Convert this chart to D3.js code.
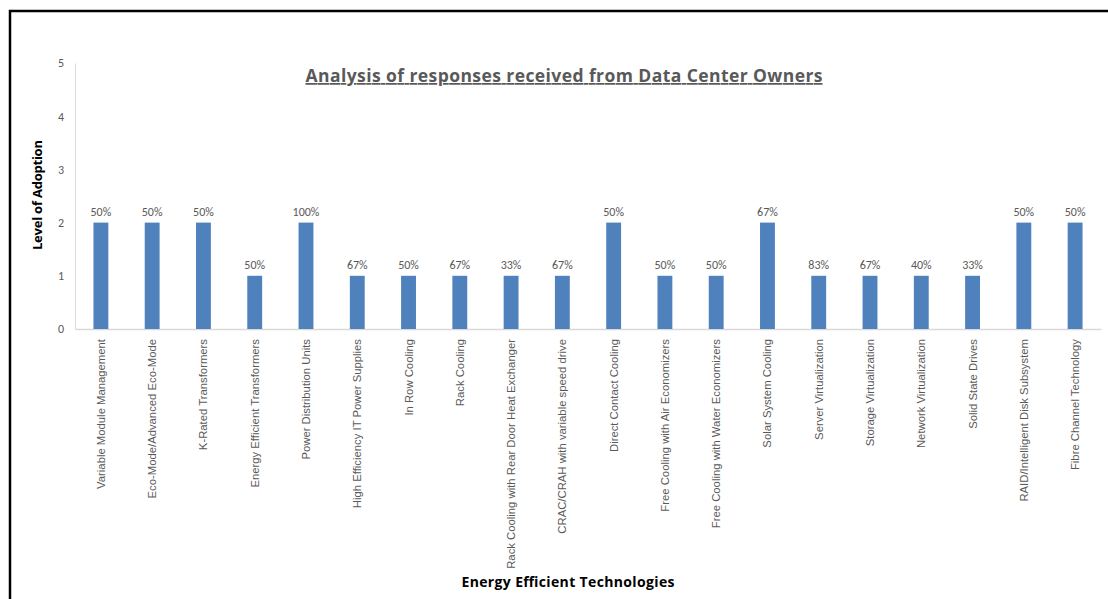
<!DOCTYPE html>
<html>
<head>
<meta charset="utf-8">
<script src="https://cdn.jsdelivr.net/npm/d3@7"></script>
<style>
  body { margin: 0; background: #fff; }
  svg { display: block; }
</style>
</head>
<body>
<script>
// chart data
const technologies = [
  "Variable Module Management",
  "Eco-Mode/Advanced Eco-Mode",
  "K-Rated Transformers",
  "Energy Efficient Transformers",
  "Power Distribution Units",
  "High Efficiency IT Power Supplies",
  "In Row Cooling",
  "Rack Cooling",
  "Rack Cooling with Rear Door Heat Exchanger",
  "CRAC/CRAH with variable speed drive",
  "Direct Contact Cooling",
  "Free Cooling with Air Economizers",
  "Free Cooling with Water Economizers",
  "Solar System Cooling",
  "Server Virtualization",
  "Storage Virtualization",
  "Network Virtualization",
  "Solid State Drives",
  "RAID/Intelligent Disk Subsystem",
  "Fibre Channel Technology"
];
const adoptionLevels = [2, 2, 2, 1, 2, 1, 1, 1, 1, 1, 2, 1, 1, 2, 1, 1, 1, 1, 2, 2];
const percentLabels = ["50%", "50%", "50%", "50%", "100%", "67%", "50%", "67%", "33%", "67%",
  "50%", "50%", "50%", "67%", "83%", "67%", "40%", "33%", "50%", "50%"];
const yTicks = [0, 1, 2, 3, 4, 5];

const width = 1108;
const height = 599;
const margin = { left: 75, right: 7, top: 63, bottom: 270 };
const textGrey = "#595959";
const calibri = "Carlito, Calibri, Lato, 'Open Sans', sans-serif";
const wide = "'Open Sans', Lato, sans-serif";
const narrow = "'Liberation Sans Narrow', 'Arial Narrow', 'Liberation Sans', sans-serif";

const svg = d3.select("body").append("svg")
  .attr("width", width)
  .attr("height", height);

// frame (only top and left edges visible)
svg.append("path")
  .attr("d", `M10,${height} L10,11 L${width},11`)
  .attr("fill", "none")
  .attr("stroke", "#000")
  .attr("stroke-width", 2.5);

const x = d3.scaleBand()
  .domain(technologies)
  .range([margin.left, width - margin.right])
  .paddingInner(0.71)
  .paddingOuter(0.36);

const y = d3.scaleLinear()
  .domain([0, 5])
  .range([height - margin.bottom, margin.top]);

// y axis
const yAxis = svg.append("g")
  .attr("transform", `translate(${margin.left},0)`)
  .call(d3.axisLeft(y).tickValues(yTicks).tickSize(0).tickPadding(11).tickFormat(d3.format("d")));
yAxis.select(".domain").attr("stroke", "#d9d9d9");
yAxis.selectAll("text")
  .attr("fill", textGrey)
  .attr("font-family", calibri)
  .attr("font-size", 12);

// x axis
const xAxis = svg.append("g")
  .attr("transform", `translate(0,${y(0)})`)
  .call(d3.axisBottom(x).tickSize(0).tickPadding(0));
xAxis.select(".domain").attr("stroke", "#d9d9d9").attr("stroke-width", 1.5);
xAxis.selectAll("text")
  .attr("fill", textGrey)
  .attr("font-family", narrow)
  .attr("font-size", 11.3)
  .attr("text-anchor", "end")
  .attr("dy", "0.35em")
  .attr("transform", "translate(0,10) rotate(-90)")
  .attr("x", 0)
  .attr("y", 0);

// bars
svg.selectAll("rect.bar")
  .data(adoptionLevels)
  .join("rect")
  .attr("class", "bar")
  .attr("x", (d, i) => x(technologies[i]))
  .attr("width", x.bandwidth())
  .attr("y", d => y(d))
  .attr("height", d => y(0) - y(d))
  .attr("fill", "#4f81bd");

// percentage labels
svg.selectAll("text.pct")
  .data(adoptionLevels)
  .join("text")
  .attr("class", "pct")
  .attr("x", (d, i) => x(technologies[i]) + x.bandwidth() / 2)
  .attr("y", d => y(d) - 7)
  .attr("text-anchor", "middle")
  .attr("fill", textGrey)
  .attr("font-family", calibri)
  .attr("font-size", 12)
  .text((d, i) => percentLabels[i]);

// title
svg.append("text")
  .attr("x", 564)
  .attr("y", 82)
  .attr("text-anchor", "middle")
  .attr("fill", textGrey)
  .attr("font-family", wide)
  .attr("font-weight", "bold")
  .attr("font-size", 17.5)
  .attr("text-decoration", "underline")
  .attr("textLength", 517)
  .attr("lengthAdjust", "spacing")
  .text("Analysis of responses received from Data Center Owners");

// y axis title
svg.append("text")
  .attr("transform", "translate(42,195) rotate(-90)")
  .attr("text-anchor", "middle")
  .attr("fill", "#000")
  .attr("font-family", wide)
  .attr("font-weight", "bold")
  .attr("font-size", 13)
  .attr("textLength", 110)
  .attr("lengthAdjust", "spacing")
  .text("Level of Adoption");

// x axis title
svg.append("text")
  .attr("x", 568)
  .attr("y", 587)
  .attr("text-anchor", "middle")
  .attr("fill", "#000")
  .attr("font-family", wide)
  .attr("font-weight", "bold")
  .attr("font-size", 14)
  .attr("textLength", 213)
  .attr("lengthAdjust", "spacing")
  .text("Energy Efficient Technologies");
</script>
</body>
</html>
